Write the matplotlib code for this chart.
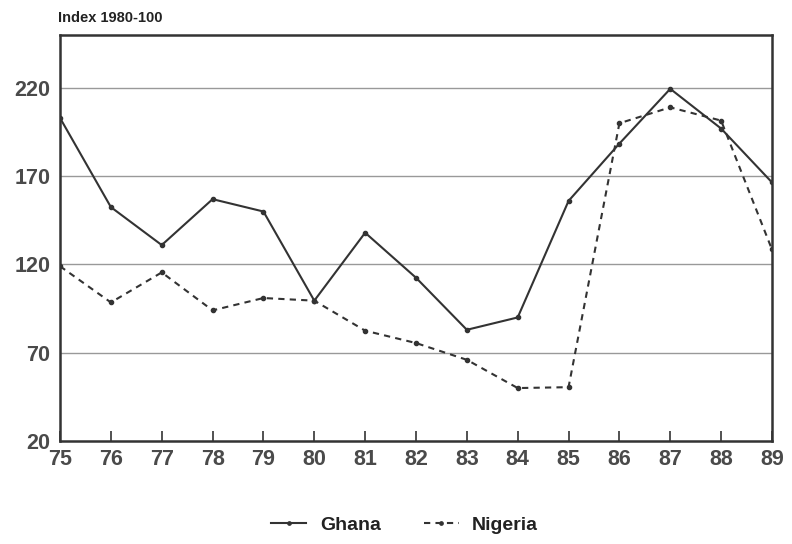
import matplotlib
matplotlib.use("Agg")
import matplotlib.pyplot as plt

# --- data ---
years = [75, 76, 77, 78, 79, 80, 81, 82, 83, 84, 85, 86, 87, 88, 89]
ghana = [203, 152.5, 131, 157, 150, 99.5, 138, 112.5, 83, 90, 156, 188.5, 219.5, 197, 166.5]
nigeria = [119, 98.5, 115.5, 94, 101, 99.5, 82.5, 75.5, 66, 50, 50.5, 200, 209, 201.5, 128.5]
y_ticks = [20, 70, 120, 170, 220]

plt.rcParams['font.family'] = ['Liberation Sans', 'DejaVu Sans']
ink = '#333333'

fig = plt.figure(figsize=(7.92, 5.44), dpi=100)
ax = fig.add_axes([0.0758, 0.1893, 0.8989, 0.7464])

# horizontal grid lines
for v in y_ticks[1:]:
    ax.axhline(v, color='#999999', lw=1.0, zorder=1)

ax.plot(years, ghana, color=ink, lw=1.5, marker='o', ms=3, label='Ghana', zorder=3)
ax.plot(years, nigeria, color=ink, lw=1.5, ls=(0, (3, 2.5)), marker='o', ms=3,
        label='Nigeria', zorder=3)

ax.set_xlim(75, 89)
ax.set_ylim(20, 250)
ax.set_xticks(years)
ax.set_xticklabels([str(y) for y in years])
ax.set_yticks(y_ticks)

for s in ax.spines.values():
    s.set_color(ink)
    s.set_linewidth(1.8)

ax.tick_params(axis='x', direction='in', length=7, width=1.2, color=ink,
               labelsize=15.5, labelcolor='#4a4a4a', pad=6)
ax.tick_params(axis='y', length=0, labelsize=15.5, labelcolor='#4a4a4a', pad=7)
for lab in ax.get_xticklabels() + ax.get_yticklabels():
    lab.set_fontweight('bold')

fig.text(0.073, 0.966, 'Index 1980-100', fontsize=10.5, fontweight='bold',
         color='#222222', va='center', ha='left')

leg = fig.legend(loc='center', bbox_to_anchor=(0.511, 0.035), ncol=2, frameon=False,
                 fontsize=14, handlelength=1.8, handletextpad=0.7, columnspacing=2.2,
                 markerscale=0.8)
for t in leg.get_texts():
    t.set_fontweight('bold')
    t.set_color('#222222')

fig.savefig('out.png', dpi=100)
